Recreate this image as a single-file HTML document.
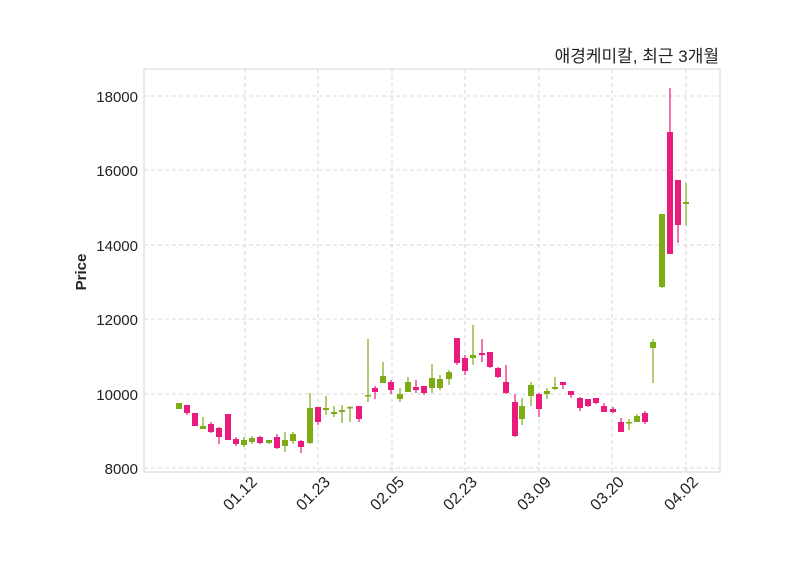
<!DOCTYPE html>
<html><head><meta charset="utf-8"><style>
body{margin:0;background:#fff;}
svg{display:block;font-family:"Liberation Sans","Noto Sans CJK KR",sans-serif;}
</style></head><body>
<svg id="s" width="800" height="575" xmlns="http://www.w3.org/2000/svg">
<rect x="0" y="0" width="800" height="575" fill="#fff"/>
<g id="grid" stroke="#cccccc" stroke-width="0.8" stroke-dasharray="4,3"></g>
<rect x="144" y="69" width="576" height="403" fill="none" stroke="#dddddd" stroke-width="1.2"/>
<g id="c"></g>
<g id="lab" font-size="15" fill="#222"></g>
<text x="86" y="272" font-size="15" font-weight="bold" fill="#222" text-anchor="middle" transform="rotate(-90 86 272)">Price</text>
<text x="719" y="62" font-size="17" fill="#222" text-anchor="end">애경케미칼, 최근 3개월</text>
</svg>
<script>
var NS="http://www.w3.org/2000/svg";
function el(p,t,a,txt){var e=document.createElementNS(NS,t);for(var k in a)e.setAttribute(k,a[k]);if(txt)e.textContent=txt;p.appendChild(e);return e;}
var g=document.getElementById('grid'),lab=document.getElementById('lab'),c=document.getElementById('c');
var ys=[[8000,468],[10000,394],[12000,319],[14000,245],[16000,170],[18000,96]];
ys.forEach(function(v){el(g,'line',{x1:144,x2:720,y1:v[1],y2:v[1]});el(lab,'text',{x:138,y:v[1]+6,'text-anchor':'end'},String(v[0]));});
var xs=[[245,'01.12'],[318,'01.23'],[392,'02.05'],[465,'02.23'],[539,'03.09'],[612,'03.20'],[686,'04.02']];
xs.forEach(function(v){el(g,'line',{x1:v[0],x2:v[0],y1:69,y2:472});var X=v[0]+13,Y=483;el(lab,'text',{x:X,y:Y,'text-anchor':'end','font-size':16,transform:'rotate(-45 '+X+' '+Y+')'},v[1]);});
var G='#7cab14',R='#eb1a7d';
var d=[
[179,403,409,403,409,G],[187,405,413,405,415,R],[195,413,426,413,426,R],[203,426,429,417,429,G],[211,424,432,422,433,R],
[219,428,437,427,444,R],[228,414,440,414,440,R],[236,439,444,437,446,R],[244,440,445,437,447,G],[252,438,442,436,444,G],
[260,437,443,436,444,R],[269,440,443,440,444,G],[277,437,448,434,449,R],[285,440,446,432,452,G],[293,434,441,432,444,G],
[301,441,447,440,453,R],[310,408,443,393,444,G],[318,407,422,407,425,R],[326,408,410,396,415,G],[334,412,414,406,417,G],
[342,410,412,405,423,G],[350,407,408,406,422,G],[359,406,419,406,422,R],[368,395,396,339,402,G],[375,388,392,386,399,R],
[383,376,383,362,383,G],[391,382,390,380,394,R],[400,394,399,388,402,G],[408,382,392,377,392,G],[416,387,390,380,393,R],
[424,386,393,386,395,R],[432,378,388,364,393,G],[440,379,388,375,390,G],[449,372,379,370,385,G],[457,338,363,338,365,R],
[465,358,371,355,375,R],[473,355,358,325,365,G],[482,353,355,339,362,R],[490,352,367,352,368,R],[498,368,377,367,378,R],
[506,382,393,365,394,R],[515,402,436,394,437,R],[522,406,419,398,425,G],[531,385,396,382,406,G],[539,394,409,393,417,R],
[547,391,394,388,399,G],[555,387,389,377,390,G],[563,382,385,382,389,R],[571,391,395,391,398,R],[580,398,408,397,411,R],
[588,399,406,399,407,R],[596,398,403,398,404,R],[604,406,412,403,412,R],[613,409,412,407,413,R],[621,422,432,418,432,R],
[629,422,423,419,430,G],[637,416,422,414,422,G],[645,413,422,411,424,R],[653,342,348,339,383,G],[662,214,287,214,288,G],
[670,132,254,88,254,R],[678,180,225,180,243,R],[686,202,204,183,225,G]];
d.forEach(function(k){
 el(c,'line',{x1:k[0],x2:k[0],y1:k[3],y2:k[4],stroke:k[5],'stroke-width':1.2});
 var h=Math.max(k[2]-k[1],1.5);
 el(c,'rect',{x:k[0]-3,y:k[1],width:6,height:h,fill:k[5]});
});
</script>
</body></html>
